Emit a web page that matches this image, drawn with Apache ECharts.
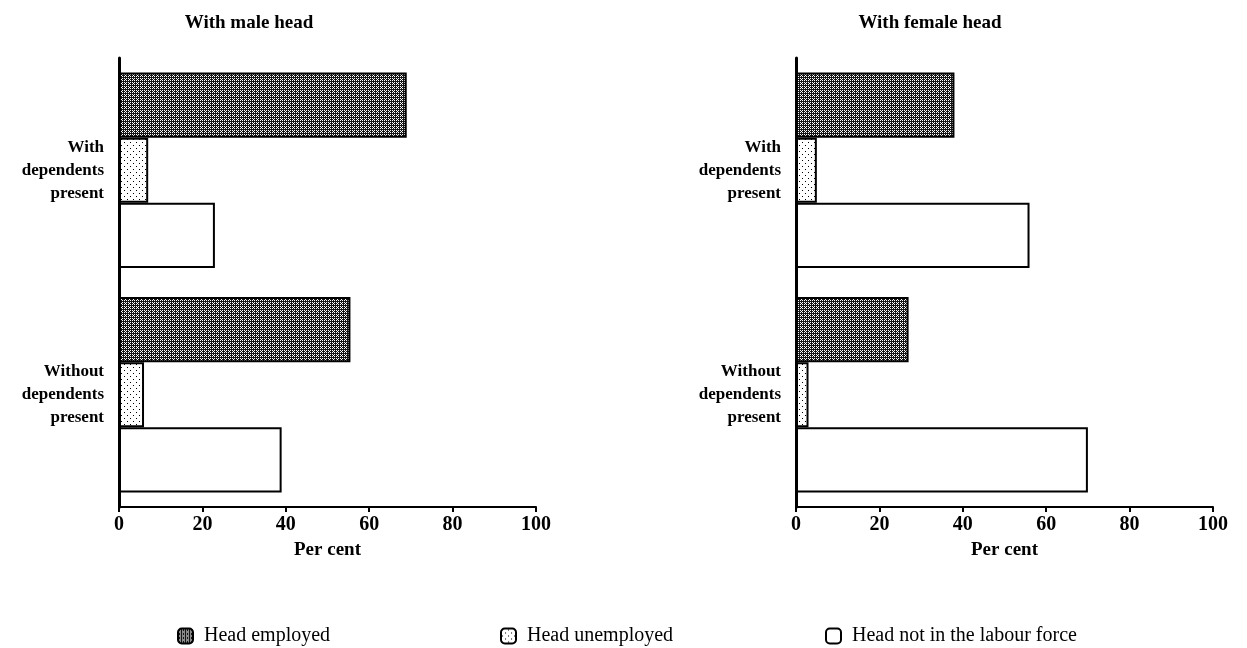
<!DOCTYPE html>
<html>
<head>
<meta charset="utf-8">
<script src="https://cdn.jsdelivr.net/npm/echarts@6/dist/echarts.min.js"></script>
<style>html,body{margin:0;padding:0;background:#fff}#c{width:1247px;height:648px}</style>
</head>
<body>
<div id="c"></div>
<script>
// Data
const categories = ['With\ndependents\npresent', 'Without\ndependents\npresent'];
const seriesNames = ['Head employed', 'Head unemployed', 'Head not in the labour force'];
const maleEmployed = [69, 55.5];
const maleUnemployed = [7, 6];
const maleNotLF = [23, 39];
const femaleEmployed = [38, 27];
const femaleUnemployed = [5, 3];
const femaleNotLF = [56, 70];
const panelTitles = ['With male head', 'With female head'];
const xTicks = [0, 20, 40, 60, 80, 100];

function makePattern(size, dots, bg, fg) {
  const c = document.createElement('canvas');
  c.width = size; c.height = size;
  const g = c.getContext('2d');
  g.fillStyle = bg; g.fillRect(0, 0, size, size);
  g.fillStyle = fg;
  dots.forEach(d => g.fillRect(d[0], d[1], 1, 1));
  return c;
}
// dark stipple: near-black background with a grid of white dots
const darkPat = makePattern(4, [[0,0],[2,0],[0,2],[2,2],[1,3]], '#151515', '#fff');
// light stipple: white background with sparse black dots
const lightPat = makePattern(6, [[1,1],[4,4]], '#fff', '#000');

const FONT = '"Liberation Serif", "DejaVu Serif", serif';
const fills = [
  {image: darkPat, repeat: 'repeat'},
  {image: lightPat, repeat: 'repeat'},
  '#fff'
];

const grids = [
  {left: 119, width: 417, top: 58, height: 449},
  {left: 796, width: 417, top: 58, height: 449}
];

function xAxis(i) {
  return {
    gridIndex: i, type: 'value', min: 0, max: 100, interval: 20,
    name: 'Per cent', nameLocation: 'middle', nameGap: 34,
    nameTextStyle: {fontFamily: FONT, fontWeight: 'bold', fontSize: 19, color: '#000'},
    axisLine: {show: true, lineStyle: {color: '#000', width: 2}},
    axisTick: {show: true, length: 5, lineStyle: {color: '#000', width: 2}},
    axisLabel: {fontFamily: FONT, fontWeight: 'bold', fontSize: 20, color: '#000', margin: 8,
      formatter: v => xTicks.includes(v) ? String(v) : ''},
    splitLine: {show: false}
  };
}
function yAxis(i) {
  return {
    gridIndex: i, type: 'category', data: categories, inverse: true,
    axisLine: {show: true, lineStyle: {color: '#000', width: 3}},
    axisTick: {show: false},
    axisLabel: {fontFamily: FONT, fontWeight: 'bold', fontSize: 17, lineHeight: 23, color: '#000', margin: 15, align: 'right'}
  };
}
function bar(name, data, i, k) {
  return {
    name: name, type: 'bar', xAxisIndex: i, yAxisIndex: i, data: data,
    barGap: '0%', barCategoryGap: '13%',
    itemStyle: {color: fills[k], borderColor: '#000', borderWidth: 2},
    emphasis: {disabled: true}
  };
}

const legendCommon = {
  top: 621, itemWidth: 15, itemHeight: 15, itemGap: 15,
  textStyle: {fontFamily: FONT, fontSize: 20, color: '#000', padding: [0, 0, 0, 6]},
  selectedMode: false
};

const titleStyle = {fontFamily: FONT, fontWeight: 'bold', fontSize: 19, color: '#000'};
const option = {
  animation: false,
  backgroundColor: '#fff',
  title: [
    {text: panelTitles[0], left: 244, top: 9, textAlign: 'center', textStyle: titleStyle},
    {text: panelTitles[1], left: 925, top: 9, textAlign: 'center', textStyle: titleStyle}
  ],
  legend: [
    Object.assign({left: 172, data: [seriesNames[0]]}, legendCommon),
    Object.assign({left: 495, data: [seriesNames[1]]}, legendCommon),
    Object.assign({left: 820, data: [seriesNames[2]]}, legendCommon)
  ],
  grid: grids,
  xAxis: [xAxis(0), xAxis(1)],
  yAxis: [yAxis(0), yAxis(1)],
  series: [
    bar(seriesNames[0], maleEmployed, 0, 0),
    bar(seriesNames[1], maleUnemployed, 0, 1),
    bar(seriesNames[2], maleNotLF, 0, 2),
    bar(seriesNames[0], femaleEmployed, 1, 0),
    bar(seriesNames[1], femaleUnemployed, 1, 1),
    bar(seriesNames[2], femaleNotLF, 1, 2)
  ]
};
echarts.init(document.getElementById('c'), null, {renderer: 'canvas'}).setOption(option);
</script>
</body>
</html>
